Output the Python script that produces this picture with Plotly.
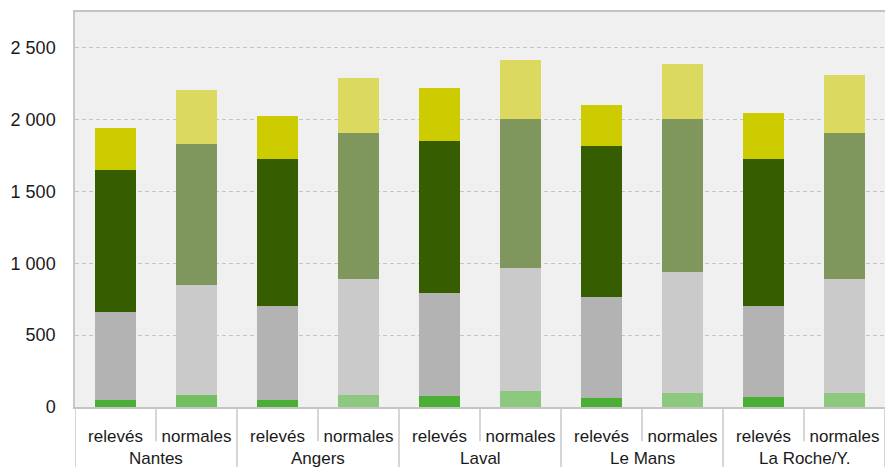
import plotly.graph_objects as go

cities = ["Nantes", "Angers", "Laval", "Le Mans", "La Roche/Y."]
kinds = ["relevés", "normales"]

# relevés (measured)
rel_green = [47, 47, 75, 61, 68]
rel_gray = [613, 653, 718, 704, 632]
rel_dark = [991, 1028, 1060, 1054, 1028]
rel_yellow = [293, 299, 370, 286, 320]

# normales
nor_green = [82, 82, 110, 96, 96]
nor_gray = [767, 807, 860, 846, 793]
nor_olive = [983, 1020, 1035, 1065, 1020]
nor_yellow = [376, 383, 413, 383, 404]

x_keys, x_text = [], []
for c in cities:
    for k in kinds:
        x_keys.append(f"{c} | {k}")
        x_text.append(k)

def interleave(a, b):
    out = []
    for u, v in zip(a, b):
        out += [u, v]
    return out

layers = [
    (interleave(rel_green, nor_green),
     interleave(["#4caf35"] * 5, ["#72bf60"] + ["#8cc97e"] * 4)),
    (interleave(rel_gray, nor_gray),
     interleave(["#b3b3b3"] * 5, ["#cacaca"] * 5)),
    (interleave(rel_dark, nor_olive),
     interleave(["#365e00"] * 5, ["#7f965c"] * 5)),
    (interleave(rel_yellow, nor_yellow),
     interleave(["#cccc00"] * 5, ["#dbd95f"] * 5)),
]

fig = go.Figure()
for vals, cols in layers:
    fig.add_trace(go.Bar(x=x_keys, y=vals, marker=dict(color=cols, line=dict(width=0)),
                         showlegend=False))

font_family = "Liberation Sans, Arial, sans-serif"
text_color = "#1a1a1a"
div_color = "#c8c8c8"

shapes = []
annotations = []
n_kinds = len(kinds)
for i, c in enumerate(cities):
    start = i * n_kinds
    shapes.append(dict(type="line", xref="x", yref="paper", x0=start - 0.5, x1=start - 0.5,
                       y0=0, y1=-0.152, line=dict(color=div_color, width=1.5)))
    for j in range(1, n_kinds):
        shapes.append(dict(type="line", xref="x", yref="paper", x0=start + j - 0.5, x1=start + j - 0.5,
                           y0=0, y1=-0.087, line=dict(color=div_color, width=1.5)))
    annotations.append(dict(text=c, xref="x", yref="paper", x=start + (n_kinds - 1) / 2, y=-0.131,
                            showarrow=False, yanchor="middle", xanchor="center",
                            font=dict(family=font_family, size=17, color=text_color)))
shapes.append(dict(type="line", xref="x", yref="paper", x0=len(x_keys) - 0.5, x1=len(x_keys) - 0.5,
                   y0=0, y1=-0.152, line=dict(color=div_color, width=1.5)))

fig.update_layout(
    barmode="stack",
    bargap=0.49,
    width=885, height=468,
    margin=dict(l=75, r=0, t=12, b=61),
    paper_bgcolor="white",
    plot_bgcolor="#f0f0f0",
    separators=", ",
    font=dict(family=font_family, size=17, color=text_color),
    showlegend=False,
    shapes=shapes,
    annotations=annotations,
)
fig.update_xaxes(
    type="category",
    tickvals=x_keys, ticktext=x_text,
    showline=True, mirror=True, linecolor="#c4c4c4", linewidth=2,
    ticks="", ticklabelstandoff=13,
    tickfont=dict(size=17, color=text_color),
    showgrid=False,
    range=[-0.5, len(x_keys) - 0.5],
)
fig.update_yaxes(
    range=[0, 2750],
    tickvals=[0, 500, 1000, 1500, 2000, 2500],
    tickformat=",d",
    showgrid=True, gridcolor="#c4c4c4", griddash="4px,3px", gridwidth=1,
    zeroline=False,
    showline=True, linecolor="#c8c8c8", linewidth=1.5,
    ticks="", ticklabelstandoff=14,
    tickfont=dict(size=18, color=text_color),
)
fig.write_html("out.html")
